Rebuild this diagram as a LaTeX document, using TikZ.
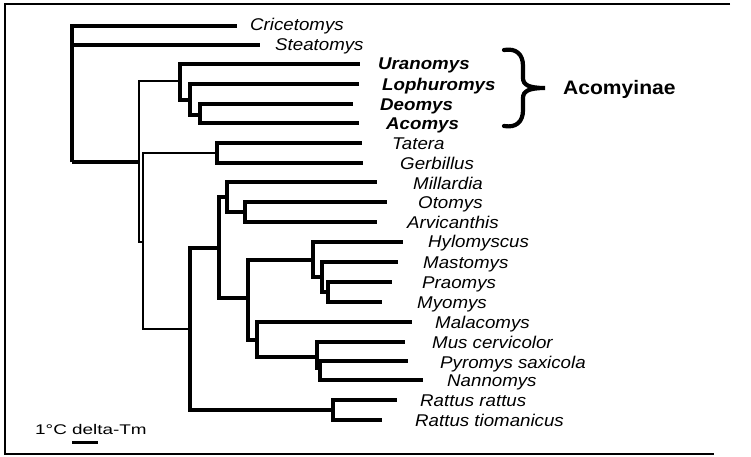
\documentclass[tikz,border=0pt]{standalone}
\usepackage{fontspec}
\setmainfont{Liberation Sans}
\newfontfamily\labfont[FakeStretch=1.1]{Liberation Sans}
\newfontfamily\grpfont[FakeStretch=1.08]{Liberation Sans}
\newfontfamily\sclfont[FakeStretch=1.35]{Liberation Sans}
\begin{document}
\begin{tikzpicture}[x=1pt,y=-1pt,
  br/.style={line width=3.2pt},
  thinbr/.style={line width=1.8pt},
  frameline/.style={line width=1.8pt},
  taxon/.style={anchor=base west, inner sep=0pt, font=\labfont\fontsize{17}{20}\selectfont\itshape},
  btaxon/.style={anchor=base west, inner sep=0pt, font=\labfont\fontsize{17}{20}\selectfont\bfseries\itshape},
]
\useasboundingbox (0,0) rectangle (751,456);
% frame
\coordinate (fTR) at (730,4);
\coordinate (fTL) at (5,4);
\coordinate (fBL) at (5,454);
\coordinate (fBR) at (714,454);
\draw[frameline] (fTR) -- (fTL) -- (fBL) -- (fBR);

% internal nodes
\coordinate (R) at (72,162);
\coordinate (A) at (139,162);
\coordinate (Q) at (180,81);
\coordinate (Q2) at (190,100);
\coordinate (Q3) at (200,115);
\coordinate (B) at (143,242);
\coordinate (TG) at (217,153);
\coordinate (C) at (190,329);
\coordinate (D) at (219,248);
\coordinate (E) at (227,197);
\coordinate (E2) at (245,212);
\coordinate (F) at (248,298);
\coordinate (G) at (313,260);
\coordinate (G2) at (322,277);
\coordinate (G3) at (328,292);
\coordinate (H) at (257,340);
\coordinate (M) at (317,357);
\coordinate (M2) at (320,368);
\coordinate (Rat) at (333,410);

% tips
\coordinate (tCri) at (237,26);
\coordinate (tSte) at (260,45);
\coordinate (tUra) at (360,64);
\coordinate (tLop) at (359,84);
\coordinate (tDeo) at (353,104);
\coordinate (tAco) at (359,123);
\coordinate (tTat) at (362,143);
\coordinate (tGer) at (363,163);
\coordinate (tMil) at (377,182);
\coordinate (tOto) at (387,202);
\coordinate (tArv) at (377,222);
\coordinate (tHyl) at (403,242);
\coordinate (tMas) at (398,262);
\coordinate (tPra) at (392,282);
\coordinate (tMyo) at (382,302);
\coordinate (tMal) at (412,322);
\coordinate (tMus) at (405,342);
\coordinate (tPyr) at (408,361);
\coordinate (tNan) at (423,380);
\coordinate (tRr) at (397,400);
\coordinate (tRt) at (382,420);

% branches
\draw[br] (R) |- (tCri);
\draw[br] (R) |- (tSte);
\draw[br] (R) -- (A);
\draw[thinbr] (A) |- (Q);
\draw[thinbr] (A) |- (B);
\draw[br] (Q) |- (tUra);
\draw[br] (Q) |- (Q2);
\draw[br] (Q2) |- (tLop);
\draw[br] (Q2) |- (Q3);
\draw[br] (Q3) |- (tDeo);
\draw[br] (Q3) |- (tAco);
\draw[thinbr] (B) |- (TG);
\draw[thinbr] (B) |- (C);
\draw[br] (TG) |- (tTat);
\draw[br] (TG) |- (tGer);
\draw[br] (C) |- (D);
\draw[br] (C) |- (Rat);
\draw[br] (D) |- (E);
\draw[br] (D) |- (F);
\draw[br] (E) |- (tMil);
\draw[br] (E) |- (E2);
\draw[br] (E2) |- (tOto);
\draw[br] (E2) |- (tArv);
\draw[br] (F) |- (G);
\draw[br] (F) |- (H);
\draw[br] (G) |- (tHyl);
\draw[br] (G) |- (G2);
\draw[br] (G2) |- (tMas);
\draw[br] (G2) |- (G3);
\draw[br] (G3) |- (tPra);
\draw[br] (G3) |- (tMyo);
\draw[br] (H) |- (tMal);
\draw[br] (H) |- (M);
\draw[br] (M) |- (tMus);
\draw[br] (M) |- (M2);
\draw[br] (M2) |- (tPyr);
\draw[br] (M2) |- (tNan);
\draw[br] (Rat) |- (tRr);
\draw[br] (Rat) |- (tRt);

% labels
\node[taxon] (lCri) at (250,30) {Cricetomys};
\node[taxon] (lSte) at (275,50) {Steatomys};
\node[btaxon] (lUra) at (378,69) {Uranomys};
\node[btaxon] (lLop) at (382,90) {Lophuromys};
\node[btaxon] (lDeo) at (380,110) {Deomys};
\node[btaxon] (lAco) at (386,129) {Acomys};
\node[taxon] (lTat) at (392,149) {Tatera};
\node[taxon] (lGer) at (400,169) {Gerbillus};
\node[taxon] (lMil) at (413,189) {Millardia};
\node[taxon] (lOto) at (418,208) {Otomys};
\node[taxon] (lArv) at (407,228) {Arvicanthis};
\node[taxon] (lHyl) at (428,247) {Hylomyscus};
\node[taxon] (lMas) at (423,268) {Mastomys};
\node[taxon] (lPra) at (422,288) {Praomys};
\node[taxon] (lMyo) at (417,308) {Myomys};
\node[taxon] (lMal) at (435,328) {Malacomys};
\node[taxon] (lMus) at (432,348) {Mus cervicolor};
\node[taxon] (lPyr) at (440,368) {Pyromys saxicola};
\node[taxon] (lNan) at (447,386) {Nannomys};
\node[taxon] (lRr) at (420,406) {Rattus rattus};
\node[taxon] (lRt) at (415,426) {Rattus tiomanicus};

% brace and group label
\draw[line width=4.2pt, line cap=round]
  (504,50) .. controls (516,48) and (523,54) .. (523,66) -- (523,78)
  .. controls (523,85) and (529,88) .. (545,88)
  .. controls (529,88) and (523,91) .. (523,98) -- (523,110)
  .. controls (523,122) and (516,128) .. (504,126);
\node[anchor=base west, inner sep=0pt, font=\grpfont\fontsize{19.5}{22}\selectfont\bfseries] (grp) at (563,94) {Acomyinae};

% scale
\node[anchor=base west, inner sep=0pt, font=\sclfont\fontsize{14}{16}\selectfont] (scl) at (35,434) {1°C delta-Tm};
\coordinate (sb1) at (72,442);
\coordinate (sb2) at (98,442);
\draw[line width=3pt] (sb1) -- (sb2);
\end{tikzpicture}
\end{document}
